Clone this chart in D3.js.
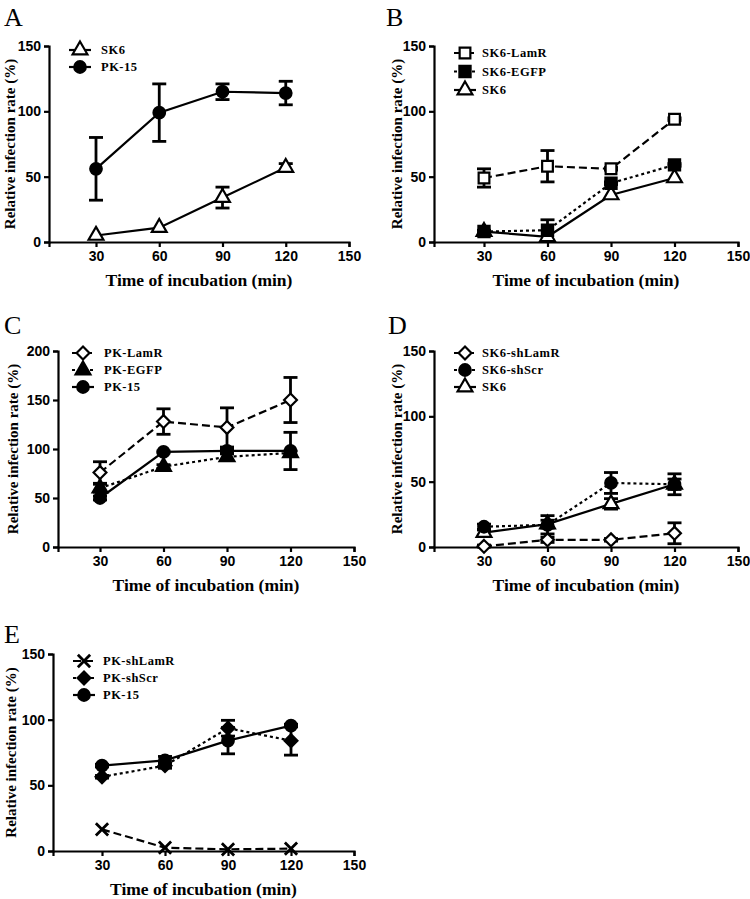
<!DOCTYPE html>
<html>
<head>
<meta charset="utf-8">
<script src="https://cdn.jsdelivr.net/npm/d3@7"></script>
<style>
  body { margin: 0; background: #fff; }
  svg { display: block; }
  .tick text { font-family: "Liberation Sans", Arial, sans-serif; font-weight: bold; font-size: 14px; }
  .axis-label { font-family: "Liberation Serif", "Times New Roman", serif; font-weight: bold; font-size: 17.5px; }
  .axis-label.y { font-size: 15px; }
  .legend text { font-family: "Liberation Serif", "Times New Roman", serif; font-weight: bold; font-size: 12.5px; letter-spacing: 0.5px; }
  .panel-label { font-family: "Liberation Serif", "Times New Roman", serif; font-size: 26px; }
</style>
</head>
<body>
<svg width="750" height="899"></svg>
<script>
"use strict";

const times = [30, 60, 90, 120];
const xTicks = [30, 60, 90, 120, 150];

// Panel A
const aSK6 = [5, 11, 34, 57];
const aSK6Err = [0, 0, 8, 3];
const aPK15 = [56, 99, 115, 114];
const aPK15Err = [24, 22, 6, 9];

// Panel B
const bLamR = [49, 58, 56, 94];
const bLamRErr = [7, 12, 1, 1];
const bEGFP = [8, 9, 45, 59];
const bEGFPErr = [1, 8, 1, 1];
const bSK6 = [8, 4, 36, 49];
const bSK6Err = [0, 0, 0, 0];

// Panel C
const cLamR = [76, 128, 122, 150];
const cLamRErr = [11, 13, 20, 23];
const cEGFP = [60, 82, 92, 96];
const cEGFPErr = [4, 2, 3, 2];
const cPK15 = [50, 97, 98, 98];
const cPK15Err = [2, 1, 2, 19];

// Panel D
const dShLamR = [0.5, 5.5, 5.5, 10.5];
const dShLamRErr = [1, 2, 1, 8];
const dShScr = [15.5, 17, 49, 48];
const dShScrErr = [2, 7, 8, 8];
const dSK6 = [11, 17.5, 33, 48];
const dSK6Err = [2, 3, 4, 4];

// Panel E
const eShLamR = [16.5, 2.5, 1.3, 1.8];
const eShLamRErr = [0, 0, 0, 0];
const eShScr = [56.5, 65, 93.5, 84];
const eShScrErr = [1, 2, 6, 11];
const ePK15 = [65, 69, 84, 95.5];
const ePK15Err = [1, 3, 10, 1];

const svg = d3.select("svg");

const DASH = "8,4";
const DOT = "3,3";

const styles = {
  openTriangle: { type: d3.symbolTriangle, size: 95, fill: "#fff" },
  circle: { type: d3.symbolCircle, size: 105, fill: "#000" },
  openSquare: { type: d3.symbolSquare, size: 115, fill: "#fff" },
  square: { type: d3.symbolSquare, size: 125, fill: "#000" },
  openDiamond: { type: d3.symbolDiamond2, size: 105, fill: "#fff" },
  triangle: { type: d3.symbolTriangle, size: 95, fill: "#000" },
  diamond: { type: d3.symbolDiamond2, size: 105, fill: "#000" },
  cross: { type: d3.symbolTimes, size: 100, fill: "none" }
};

const panels = [
  {
    label: "A", lx: 4, ly: 26,
    left: 49, x30: 96, x150: 349, top: 46, bottom: 242, yMax: 150,
    yTicks: [0, 50, 100, 150], ylabX: 10,
    legend: { x: 80, tx: 101, y: 50, dy: 17 },
    series: [
      { name: "SK6", values: aSK6, err: aSK6Err, marker: "openTriangle", dash: null },
      { name: "PK-15", values: aPK15, err: aPK15Err, marker: "circle", dash: null }
    ]
  },
  {
    label: "B", lx: 386, ly: 26,
    left: 434, x30: 484, x150: 738, top: 46, bottom: 242, yMax: 150,
    yTicks: [0, 50, 100, 150], ylabX: 397,
    legend: { x: 465, tx: 482, y: 53, dy: 18.5 },
    series: [
      { name: "SK6-LamR", values: bLamR, err: bLamRErr, marker: "openSquare", dash: DASH },
      { name: "SK6-EGFP", values: bEGFP, err: bEGFPErr, marker: "square", dash: DOT },
      { name: "SK6", values: bSK6, err: bSK6Err, marker: "openTriangle", dash: null }
    ]
  },
  {
    label: "C", lx: 4, ly: 334,
    left: 58, x30: 100, x150: 354, top: 351, bottom: 547, yMax: 200,
    yTicks: [0, 50, 100, 150, 200], ylabX: 13,
    legend: { x: 83, tx: 104, y: 353, dy: 17 },
    series: [
      { name: "PK-LamR", values: cLamR, err: cLamRErr, marker: "openDiamond", dash: DASH },
      { name: "PK-EGFP", values: cEGFP, err: cEGFPErr, marker: "triangle", dash: DOT },
      { name: "PK-15", values: cPK15, err: cPK15Err, marker: "circle", dash: null }
    ]
  },
  {
    label: "D", lx: 388, ly: 334,
    left: 434, x30: 484, x150: 738, top: 351, bottom: 547, yMax: 150,
    yTicks: [0, 50, 100, 150], ylabX: 397,
    legend: { x: 465, tx: 482, y: 353, dy: 17 },
    series: [
      { name: "SK6-shLamR", values: dShLamR, err: dShLamRErr, marker: "openDiamond", dash: DASH },
      { name: "SK6-shScr", values: dShScr, err: dShScrErr, marker: "circle", dash: DOT },
      { name: "SK6", values: dSK6, err: dSK6Err, marker: "openTriangle", dash: null }
    ]
  },
  {
    label: "E", lx: 4, ly: 643,
    left: 53, x30: 102, x150: 354, top: 654, bottom: 851, yMax: 150,
    yTicks: [0, 50, 100, 150], ylabX: 11,
    legend: { x: 84, tx: 103, y: 661, dy: 17 },
    series: [
      { name: "PK-shLamR", values: eShLamR, err: eShLamRErr, marker: "cross", dash: DASH },
      { name: "PK-shScr", values: eShScr, err: eShScrErr, marker: "diamond", dash: DOT },
      { name: "PK-15", values: ePK15, err: ePK15Err, marker: "circle", dash: null }
    ]
  }
];

const drawMarker = (sel, marker) => {
  const st = styles[marker];
  sel.attr("d", d3.symbol().type(st.type).size(st.size)())
    .attr("fill", st.fill)
    .attr("stroke", "#000")
    .attr("stroke-width", marker === "cross" ? 2.8 : 2.2);
};

const drawPanel = p => {
  const g = svg.append("g");

  // x scale: ticks placed at 30 and 150, axis starts at the y axis
  const xTmp = d3.scaleLinear().domain([30, 150]).range([p.x30, p.x150]);
  const xScale = d3.scaleLinear().domain([xTmp.invert(p.left), 150]).range([p.left, p.x150]);
  const yScale = d3.scaleLinear().domain([0, p.yMax]).range([p.bottom, p.top]);

  const xAxis = d3.axisBottom(xScale).tickValues(xTicks).tickSizeOuter(0).tickSize(5).tickPadding(3);
  const yAxis = d3.axisLeft(yScale).tickValues(p.yTicks).tickSizeOuter(0).tickSize(5).tickPadding(3);

  const xAxisG = g.append("g").attr("transform", `translate(0,${p.bottom})`).call(xAxis);
  const yAxisG = g.append("g").attr("transform", `translate(${p.left},0)`).call(yAxis);
  [xAxisG, yAxisG].forEach(a => {
    a.select(".domain").attr("stroke-width", 2.2);
    a.selectAll(".tick line").attr("stroke-width", 2.2);
  });
  xAxisG.selectAll(".tick text").attr("dy", "0.8em");

  g.append("text")
    .attr("class", "axis-label")
    .attr("x", (p.left + p.x150) / 2)
    .attr("y", p.bottom + 44)
    .attr("text-anchor", "middle")
    .text("Time of incubation (min)");

  g.append("text")
    .attr("class", "axis-label y")
    .attr("transform", `translate(${p.ylabX},${(p.top + p.bottom) / 2}) rotate(-90)`)
    .attr("dy", "0.35em")
    .attr("text-anchor", "middle")
    .text("Relative infection rate (%)");

  g.append("text")
    .attr("class", "panel-label")
    .attr("x", p.lx)
    .attr("y", p.ly)
    .text(p.label);

  const line = d3.line().x((d, i) => xScale(times[i])).y(d => yScale(d));

  // draw solid first so dashed/dotted sit on top like the original
  const order = p.series.slice().reverse();

  order.forEach(s => {
    g.append("path")
      .attr("d", line(s.values))
      .attr("fill", "none")
      .attr("stroke", "#000")
      .attr("stroke-width", 2.2)
      .attr("stroke-dasharray", s.dash);
  });

  order.forEach(s => {
    const eg = g.append("g");
    s.values.forEach((v, i) => {
      const e = s.err[i];
      if (!e) return;
      const cx = xScale(times[i]);
      const y1 = yScale(v + e);
      const y2 = yScale(Math.max(0, v - e));
      eg.append("line").attr("x1", cx).attr("x2", cx).attr("y1", y1).attr("y2", y2)
        .attr("stroke", "#000").attr("stroke-width", 2.8);
      [y1, y2].forEach(yy => {
        eg.append("line").attr("x1", cx - 7).attr("x2", cx + 7).attr("y1", yy).attr("y2", yy)
          .attr("stroke", "#000").attr("stroke-width", 2.8);
      });
    });
  });

  order.forEach(s => {
    g.append("g")
      .selectAll("path")
      .data(s.values)
      .enter()
      .append("path")
      .attr("transform", (d, i) => `translate(${xScale(times[i])},${yScale(d)})`)
      .call(drawMarker, s.marker);
  });

  const legend = g.append("g").attr("class", "legend");
  p.series.forEach((s, i) => {
    const ly = p.legend.y + i * p.legend.dy;
    legend.append("line")
      .attr("x1", p.legend.x - 11).attr("x2", p.legend.x + 11)
      .attr("y1", ly).attr("y2", ly)
      .attr("stroke", "#000").attr("stroke-width", 2.2)
      .attr("stroke-dasharray", s.dash);
    legend.append("path")
      .attr("transform", `translate(${p.legend.x},${ly})`)
      .call(drawMarker, s.marker);
    legend.append("text")
      .attr("x", p.legend.tx)
      .attr("y", ly)
      .attr("dy", "0.35em")
      .text(s.name);
  });
};

panels.forEach(drawPanel);
</script>
</body>
</html>
